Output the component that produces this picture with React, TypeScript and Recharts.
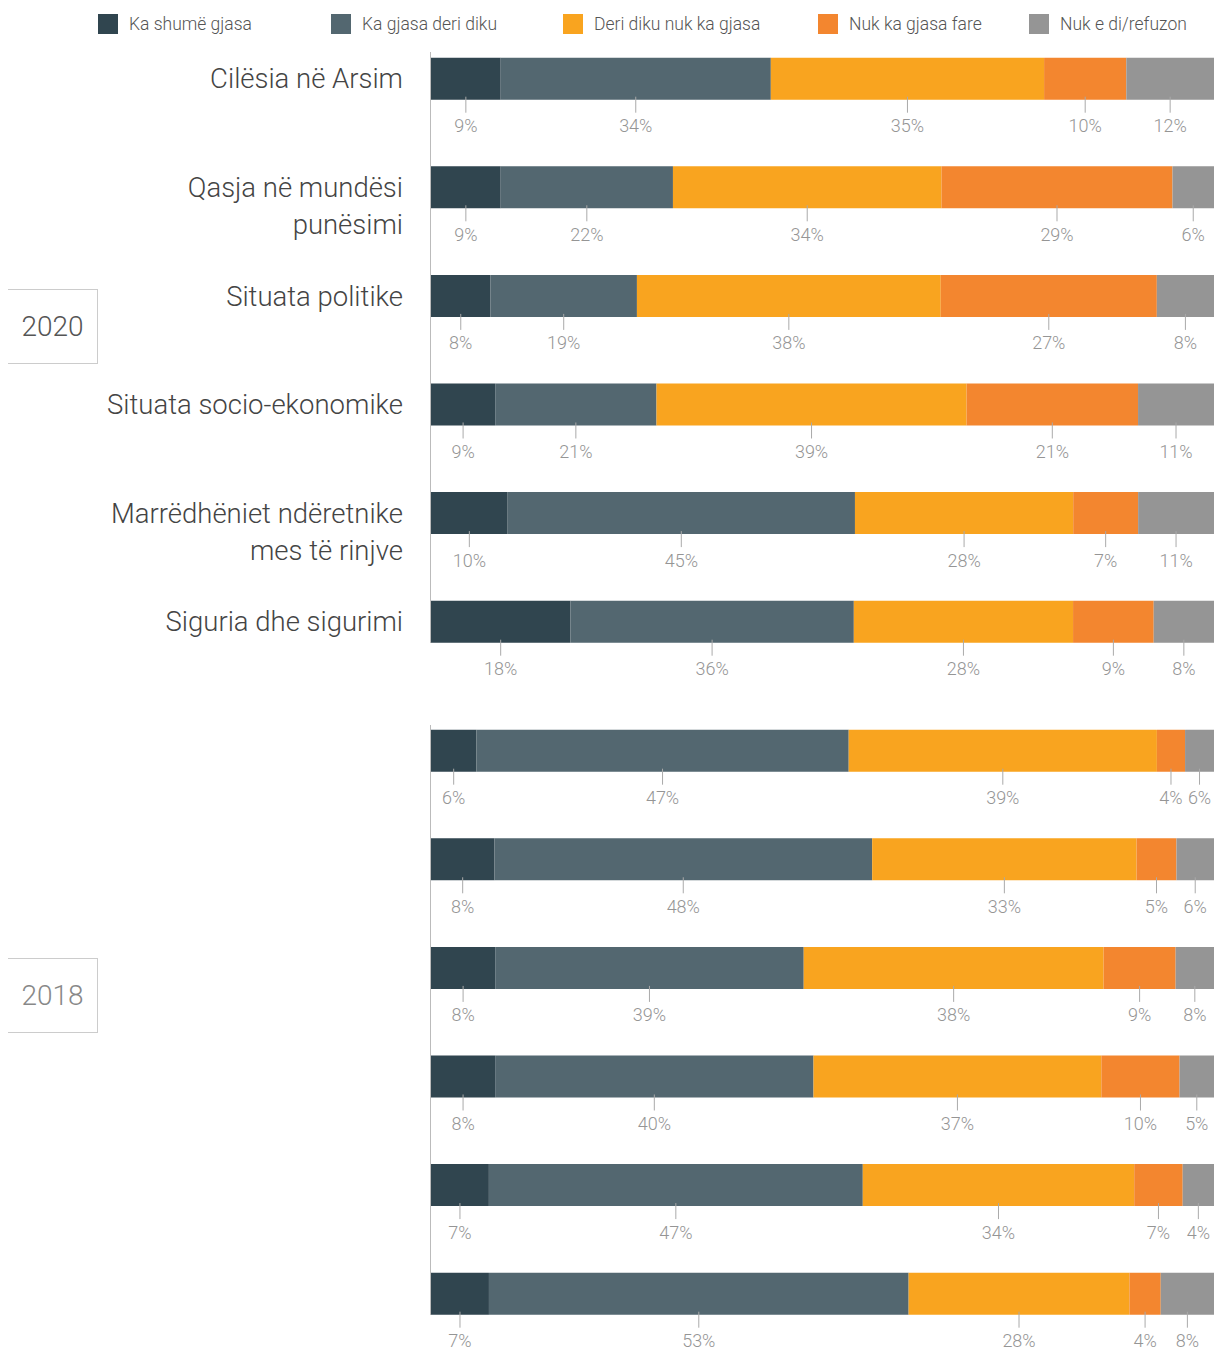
import React from 'react';
import { BarChart, Bar, XAxis, YAxis, LabelList } from 'recharts';

const categories = [
  'Cilësia në Arsim',
  'Qasja në mundësi\npunësimi',
  'Situata politike',
  'Situata socio-ekonomike',
  'Marrëdhëniet ndëretnike\nmes të rinjve',
  'Siguria dhe sigurimi',
];

const seriesNames = ['Ka shumë gjasa', 'Ka gjasa deri diku', 'Deri diku nuk ka gjasa', 'Nuk ka gjasa fare', 'Nuk e di/refuzon'];
const seriesKeys = ['veryLikely', 'somewhat', 'somewhatNot', 'notAtAll', 'dontKnow'];
const seriesColors = ['#30454f', '#536770', '#f9a41f', '#f3862f', '#959595'];

// 2020 - bar shares as drawn
const veryLikely2020 = [8.9, 8.9, 7.6, 8.2, 9.8, 17.8];
const somewhat2020 = [34.5, 22.0, 18.7, 20.6, 44.4, 36.2];
const somewhatNot2020 = [34.9, 34.3, 38.8, 39.6, 27.9, 28.0];
const notAtAll2020 = [10.5, 29.5, 27.6, 21.9, 8.3, 10.3];
const dontKnow2020 = [11.2, 5.3, 7.3, 9.7, 9.7, 7.7];

// 2020 - printed labels
const veryLikelyLbl2020 = ['9%', '9%', '8%', '9%', '10%', '18%'];
const somewhatLbl2020 = ['34%', '22%', '19%', '21%', '45%', '36%'];
const somewhatNotLbl2020 = ['35%', '34%', '38%', '39%', '28%', '28%'];
const notAtAllLbl2020 = ['10%', '29%', '27%', '21%', '7%', '9%'];
const dontKnowLbl2020 = ['12%', '6%', '8%', '11%', '11%', '8%'];

// 2018 - bar shares as drawn
const veryLikely2018 = [5.8, 8.1, 8.2, 8.2, 7.4, 7.4];
const somewhat2018 = [47.6, 48.3, 39.4, 40.7, 47.8, 53.6];
const somewhatNot2018 = [39.4, 33.8, 38.3, 36.8, 34.7, 28.2];
const notAtAll2018 = [3.6, 5.1, 9.2, 10.0, 6.2, 4.0];
const dontKnow2018 = [3.7, 4.8, 4.9, 4.4, 4.0, 6.8];

// 2018 - printed labels
const veryLikelyLbl2018 = ['6%', '8%', '8%', '8%', '7%', '7%'];
const somewhatLbl2018 = ['47%', '48%', '39%', '40%', '47%', '53%'];
const somewhatNotLbl2018 = ['39%', '33%', '38%', '37%', '34%', '28%'];
const notAtAllLbl2018 = ['4%', '5%', '9%', '10%', '7%', '4%'];
const dontKnowLbl2018 = ['6%', '6%', '8%', '5%', '4%', '8%'];

const buildRows = (a: number[], b: number[], c: number[], d: number[], e: number[]) =>
  categories.map((name, i) => ({
    name,
    veryLikely: a[i],
    somewhat: b[i],
    somewhatNot: c[i],
    notAtAll: d[i],
    dontKnow: e[i],
  }));

const data2020 = buildRows(veryLikely2020, somewhat2020, somewhatNot2020, notAtAll2020, dontKnow2020);
const data2018 = buildRows(veryLikely2018, somewhat2018, somewhatNot2018, notAtAll2018, dontKnow2018);
const labels2020 = [veryLikelyLbl2020, somewhatLbl2020, somewhatNotLbl2020, notAtAllLbl2020, dontKnowLbl2020];
const labels2018 = [veryLikelyLbl2018, somewhatLbl2018, somewhatNotLbl2018, notAtAllLbl2018, dontKnowLbl2018];

const FONT = 'Roboto, "Noto Sans", sans-serif';

const CategoryTick = (props: any) => {
  const { y, payload } = props;
  const lines = String(payload.value).split('\n');
  return (
    <g>
      {lines.map((line, i) => (
        <text
          key={i}
          x={403}
          y={y + i * 37}
          textAnchor="end"
          dominantBaseline="central"
          fontSize={27.5}
          fontWeight={300}
          fill="#444"
          fontFamily={FONT}
        >
          {line}
        </text>
      ))}
    </g>
  );
};

const PctLabel = (props: any) => {
  const { x, y, width, height, index, texts } = props;
  const cx = x + width / 2;
  const bottom = y + height;
  return (
    <g>
      <line x1={cx} x2={cx} y1={bottom - 3} y2={bottom + 13} stroke="#aaa" strokeWidth={1} />
      <text
        x={cx}
        y={bottom + 26}
        textAnchor="middle"
        dominantBaseline="central"
        fontSize={18}
        fontWeight={300}
        fill="#959595"
        fontFamily={FONT}
      >
        {texts[index]}
      </text>
    </g>
  );
};

const StackChart = ({ data, labels, showNames, top, marginTop }: any) => (
  <div style={{ position: 'absolute', left: 0, top }}>
    <BarChart
      width={1218}
      height={marginTop + 651.6 + 24}
      data={data}
      layout="vertical"
      stackOffset="expand"
      barSize={42}
      margin={{ top: marginTop, right: 4, bottom: 24, left: 0 }}
    >
      <XAxis type="number" hide domain={[0, 1]} />
      <YAxis
        type="category"
        dataKey="name"
        width={431}
        axisLine={false}
        tickLine={false}
        tick={showNames ? <CategoryTick /> : false}
        interval={0}
      />
      {seriesKeys.map((key, i) => (
        <Bar key={key} dataKey={key} stackId="s" fill={seriesColors[i]} isAnimationActive={false}>
          <LabelList dataKey={key} content={<PctLabel texts={labels[i]} />} />
        </Bar>
      ))}
    </BarChart>
  </div>
);

const YearBox = ({ label, top, color }: any) => (
  <div
    style={{
      position: 'absolute',
      left: 8,
      top,
      width: 90,
      height: 75,
      borderTop: '1px solid #ccc',
      borderRight: '1px solid #ccc',
      borderBottom: '1px solid #ccc',
      boxSizing: 'border-box',
      display: 'flex',
      alignItems: 'center',
      justifyContent: 'center',
      fontSize: 28,
      fontWeight: 300,
      color,
      fontFamily: FONT,
    }}
  >
    {label}
  </div>
);

const legendX = [98, 331, 563, 818, 1029];

export default function App() {
  return (
    <div style={{ position: 'absolute', left: 0, top: 0, width: 1218, height: 1354, background: '#fff', overflow: 'hidden' }}>
      {seriesNames.map((name, i) => (
        <div
          key={name}
          style={{ position: 'absolute', left: legendX[i], top: 14, display: 'flex', alignItems: 'center', height: 20 }}
        >
          <div style={{ width: 20, height: 20, background: seriesColors[i], marginRight: 11 }} />
          <span style={{ fontSize: 17.5, fontWeight: 300, color: '#555', fontFamily: FONT, whiteSpace: 'nowrap' }}>{name}</span>
        </div>
      ))}

      <StackChart data={data2020} labels={labels2020} showNames top={0} marginTop={24.7} />
      <StackChart data={data2018} labels={labels2018} showNames={false} top={680} marginTop={16.7} />

      <div style={{ position: 'absolute', left: 430, top: 52, width: 1, height: 591, background: '#bbb' }} />
      <div style={{ position: 'absolute', left: 430, top: 725, width: 1, height: 590, background: '#bbb' }} />

      <YearBox label="2020" top={289} color="#555" />
      <YearBox label="2018" top={958} color="#888" />
    </div>
  );
}
